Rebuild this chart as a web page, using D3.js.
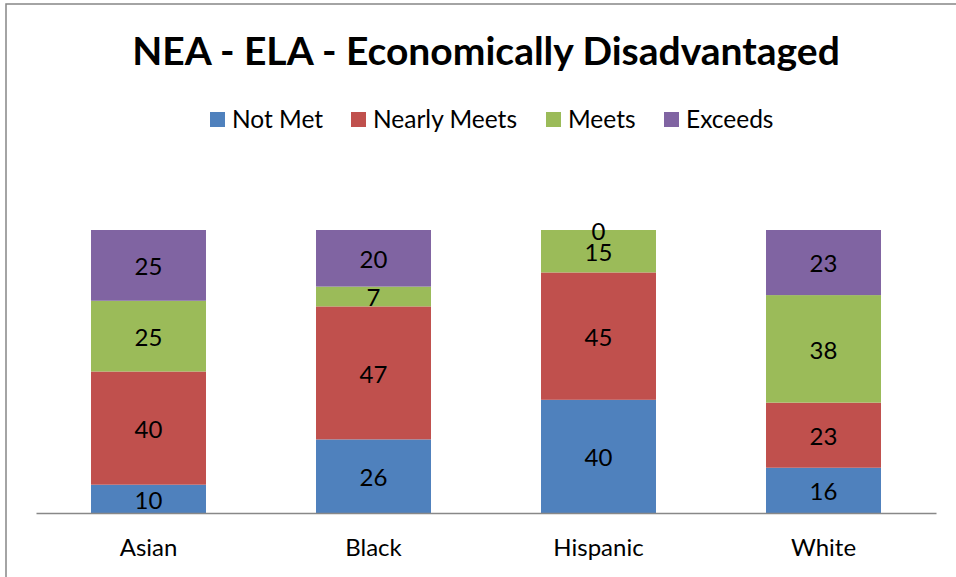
<!DOCTYPE html>
<html>
<head>
<meta charset="utf-8">
<script src="https://cdn.jsdelivr.net/npm/d3@7"></script>
<style>
  body { margin: 0; background: #fff; }
  svg { display: block; font-family: Lato, "Open Sans", sans-serif; }
</style>
</head>
<body>
<div id="chart"></div>
<script>
// chart values
const title = 'NEA - ELA - Economically Disadvantaged';
const categories = ['Asian', 'Black', 'Hispanic', 'White'];
const seriesNames = ['Not Met', 'Nearly Meets', 'Meets', 'Exceeds'];
const notMet = [10, 26, 40, 16];
const nearlyMeets = [40, 47, 45, 23];
const meets = [25, 7, 15, 38];
const exceeds = [25, 20, 0, 23];
const colors = ['#4F81BD', '#C0504D', '#9BBB59', '#8064A2'];

const W = 956, H = 577;
const svg = d3.select('#chart').append('svg')
  .attr('width', W)
  .attr('height', H);

// outer frame (only left and top visible in the original crop)
svg.append('rect')
  .attr('x', 6).attr('y', 4)
  .attr('width', W + 10).attr('height', H + 10)
  .attr('fill', 'none')
  .attr('stroke', '#878787')
  .attr('stroke-width', 1.5);

svg.append('text')
  .attr('x', 486).attr('y', 65)
  .attr('text-anchor', 'middle')
  .attr('font-size', 39)
  .attr('font-weight', 'bold')
  .text(title);

// build rows for stacking
const rows = categories.map((c, i) => ({
  cat: c,
  'Not Met': notMet[i],
  'Nearly Meets': nearlyMeets[i],
  'Meets': meets[i],
  'Exceeds': exceeds[i]
}));
const stacked = d3.stack().keys(seriesNames)
  .offset(d3.stackOffsetExpand)(rows);

const x = d3.scaleBand().domain(categories).range([36, 936]).paddingInner(0.489).paddingOuter(0.2445);
const y = d3.scaleLinear().domain([0, 1]).range([513, 230]);

const layers = svg.selectAll('.layer').data(stacked).enter()
  .append('g')
  .attr('class', 'layer')
  .attr('fill', (d, i) => colors[i]);

layers.selectAll('rect').data(d => d).enter()
  .append('rect')
  .attr('x', d => x(d.data.cat))
  .attr('width', x.bandwidth())
  .attr('y', d => y(d[1]))
  .attr('height', d => y(d[0]) - y(d[1]));

layers.selectAll('.lbl').data((d) => d.map(v => ({v: v, key: d.key}))).enter()
  .append('text')
  .attr('class', 'lbl')
  .attr('x', d => x(d.v.data.cat) + x.bandwidth() / 2)
  .attr('y', d => (y(d.v[0]) + y(d.v[1])) / 2 + 1.5)
  .attr('dy', '0.35em')
  .attr('text-anchor', 'middle')
  .attr('font-size', 24)
  .attr('fill', '#000')
  .text(d => d.v.data[d.key]);

// category axis
const axis = svg.append('g')
  .attr('transform', 'translate(0,513)')
  .call(d3.axisBottom(x).tickSize(0).tickPadding(26));
axis.select('.domain').attr('stroke', '#888').attr('stroke-width', 1.5);
axis.selectAll('text')
  .attr('font-family', 'Lato, "Open Sans", sans-serif')
  .attr('font-size', 24)
  .attr('fill', '#000');

// legend
const legendX = [210, 351, 546, 664];
const legend = svg.selectAll('.leg').data(seriesNames).enter()
  .append('g')
  .attr('class', 'leg')
  .attr('transform', (d, i) => `translate(${legendX[i]},112)`);
legend.append('rect')
  .attr('width', 15).attr('height', 15)
  .attr('fill', (d, i) => colors[i]);
legend.append('text')
  .attr('x', 22).attr('y', 7.5)
  .attr('dy', '0.35em')
  .attr('font-size', 24.5)
  .text(d => d);
</script>
</body>
</html>
